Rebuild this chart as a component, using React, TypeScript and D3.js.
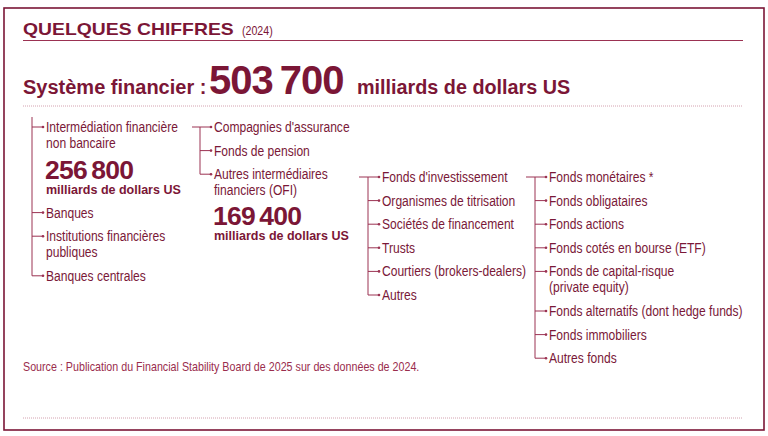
import React, { useEffect, useRef } from 'react';
import * as d3 from 'd3';

// values
const title = 'QUELQUES CHIFFRES';
const titleYear = '(2024)';
const totalLabel = 'Système financier :';
const totalValue = 503700;
const unitLabel = 'milliards de dollars US';
const nbfiValue = 256800;
const ofiValue = 169400;

const bankItems = [
    ['Intermédiation financière', 'non bancaire'],
    ['Banques'],
    ['Institutions financières', 'publiques'],
    ['Banques centrales']
];
const nbfiItems = [
    ["Compagnies d'assurance"],
    ['Fonds de pension'],
    ['Autres intermédiaires', 'financiers (OFI)']
];
const ofiItems = [
    ["Fonds d'investissement"],
    ['Organismes de titrisation'],
    ['Sociétés de financement'],
    ['Trusts'],
    ['Courtiers (brokers-dealers)'],
    ['Autres']
];
const fundItems = [
    ['Fonds monétaires *'],
    ['Fonds obligataires'],
    ['Fonds actions'],
    ['Fonds cotés en bourse (ETF)'],
    ['Fonds de capital-risque', '(private equity)'],
    ['Fonds alternatifs (dont hedge funds)'],
    ['Fonds immobiliers'],
    ['Autres fonds']
];
const sourceText = 'Source : Publication du Financial Stability Board de 2025 sur des données de 2024.';

const W = 768;
const H = 436;
const dark = '#7b1636';
const textRed = '#7a1838';
const lineRed = '#9b3252';
const font = '"Liberation Sans", Arial, sans-serif';
const narrow = 0.85; // horizontal squeeze to get a condensed face

const fmt = (v: number) => d3.format(',')(v).replace(/,/g, '\u2009');

type Tree = {
    items: string[][];
    x: number; // vertical line
    stub: number; // where the incoming stub starts
    top: number;
    gap: Record<number, number>; // extra space after an item (for the figures)
};

type Sel = d3.Selection<any, unknown, null, undefined>;

// text placed with a horizontal scale
function stretched(parent: Sel, x: number, y: number, sx: number) {
    return parent.append('text')
        .attr('transform', `translate(${x},${y}) scale(${sx},1)`)
        .attr('font-family', font);
}

export default function App() {
    const ref = useRef<SVGSVGElement>(null);

    useEffect(() => {
        const svg = d3.select(ref.current) as unknown as Sel;
        svg.selectAll('*').remove();

        svg.append('rect')
            .attr('x', 4).attr('y', 8)
            .attr('width', 760).attr('height', 422)
            .attr('fill', 'white')
            .attr('stroke', dark).attr('stroke-width', 1.6);

        // title
        stretched(svg, 23, 35, 1.21)
            .attr('fill', dark).attr('font-weight', 'bold').attr('font-size', 16)
            .text(title);
        stretched(svg, 242, 35, narrow)
            .attr('fill', dark).attr('font-size', 12.5)
            .text(titleYear);

        svg.append('line')
            .attr('x1', 23).attr('x2', 743).attr('y1', 40.5).attr('y2', 40.5)
            .attr('stroke', lineRed).attr('stroke-width', 1);

        // headline
        const h = svg.append('text')
            .attr('y', 94)
            .attr('fill', dark)
            .attr('font-family', font)
            .attr('font-weight', 'bold');
        h.append('tspan').attr('x', 23).attr('font-size', 20).text(totalLabel);
        h.append('tspan').attr('x', 209).attr('font-size', 40).attr('letter-spacing', -1).text(fmt(totalValue));
        h.append('tspan').attr('x', 357).attr('font-size', 19.8).text(unitLabel);

        const dotted = (y: number) => svg.append('line')
            .attr('x1', 23).attr('x2', 743).attr('y1', y).attr('y2', y)
            .attr('stroke', '#c98a9c').attr('stroke-width', 0.8)
            .attr('stroke-dasharray', '1,1');
        dotted(106);
        dotted(418);

        const step = 23.6;
        const lineH = 16;

        const drawTree = (tree: Tree) => {
            // cumulative positions of items
            const ys: number[] = [];
            let y = tree.top;
            tree.items.forEach((lines, i) => {
                ys.push(y);
                y += step + (lines.length - 1) * lineH + (tree.gap[i] ?? 0);
            });
            const yScale = d3.scaleOrdinal<number, number>().domain(d3.range(ys.length)).range(ys);
            const g = svg.append('g');
            const last = yScale(ys.length - 1);

            g.append('path')
                .attr('d', `M${tree.stub},${tree.top}H${tree.x}V${last}`)
                .attr('fill', 'none').attr('stroke', lineRed).attr('stroke-width', 1);

            tree.items.forEach((lines, i) => {
                const yy = yScale(i);
                g.append('line')
                    .attr('x1', tree.x).attr('x2', tree.x + 11)
                    .attr('y1', yy).attr('y2', yy)
                    .attr('stroke', lineRed).attr('stroke-width', 1);
                g.append('circle')
                    .attr('cx', tree.x + 11).attr('cy', yy).attr('r', 1.3)
                    .attr('fill', lineRed);
                const tx = stretched(g, tree.x + 14, yy + 5, narrow)
                    .attr('fill', textRed)
                    .attr('font-size', 14.2);
                lines.forEach((l, j) => {
                    tx.append('tspan')
                        .attr('x', 0)
                        .attr('y', j * lineH)
                        .text(l);
                });
            });
            return yScale;
        };

        const figure = (x: number, y: number, v: number) => {
            svg.append('text')
                .attr('x', x).attr('y', y)
                .attr('fill', dark)
                .attr('font-family', font).attr('font-weight', 'bold')
                .attr('font-size', 26.5).attr('letter-spacing', -0.8)
                .text(fmt(v));
            svg.append('text')
                .attr('x', x + 1).attr('y', y + 15)
                .attr('fill', dark)
                .attr('font-family', font).attr('font-weight', 'bold')
                .attr('font-size', 12.5)
                .text(unitLabel);
        };

        // trees
        const t1 = drawTree({ items: bankItems, x: 32, stub: 32, top: 127, gap: { 0: 46 } });
        figure(45, 179, nbfiValue);
        // the vertical line of the first tree goes up above the first item
        svg.append('line')
            .attr('x1', 32).attr('x2', 32).attr('y1', 117).attr('y2', t1(0))
            .attr('stroke', lineRed).attr('stroke-width', 1);

        drawTree({ items: nbfiItems, x: 200, stub: 192, top: 127, gap: {} });
        figure(213, 225, ofiValue);

        drawTree({ items: ofiItems, x: 368, stub: 359, top: 177, gap: {} });
        drawTree({ items: fundItems, x: 535, stub: 526, top: 177, gap: {} });

        stretched(svg, 23, 371, narrow)
            .attr('fill', '#9a2d4d')
            .attr('font-size', 12.6)
            .text(sourceText);
    }, []);

    return <svg ref={ref} width={W} height={H} style={{ position: 'absolute', left: 0, top: 0 }} />;
}
